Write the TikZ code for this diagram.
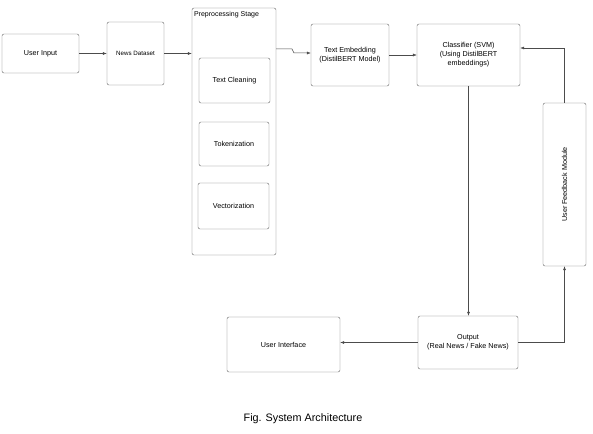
\documentclass[tikz,border=0pt]{standalone}
\usepackage{fontspec}
\setmainfont{Liberation Sans}
\usetikzlibrary{arrows.meta, positioning}

\begin{document}
\begin{tikzpicture}[
    x=1pt, y=-1pt,
    box/.style={rectangle, draw=black!60, rounded corners=2pt, inner sep=1pt, align=center, font=\fontsize{7.2}{9}\selectfont},
    arr/.style={-{Latex[length=4pt,width=3pt]}, draw=black!70, line width=0.5pt}
]
\useasboundingbox (0,0) rectangle (593,433);

% Input side
\node[box, minimum width=77pt, minimum height=39pt] (input) at (40.5,53.5) {User Input};
\node[box, minimum width=57pt, minimum height=63pt, font=\fontsize{6.2}{8}\selectfont] (dataset) at (135.5,53.5) {News Dataset};

% Preprocessing stage
\node[box, minimum width=84pt, minimum height=247pt] (prep) at (234,131.5) {};
\node[anchor=north west, inner sep=0pt, font=\fontsize{7}{8}\selectfont] (preplabel) at ([shift={(2,3)}]prep.north west) {Preprocessing Stage};
\node[box, minimum width=71pt, minimum height=45pt] (clean) at (234.5,80.5) {Text Cleaning};
\node[box, minimum width=70pt, minimum height=44pt] (token) at (234,144) {Tokenization};
\node[box, minimum width=71pt, minimum height=46pt] (vector) at (233.5,206) {Vectorization};

% Model
\node[box, minimum width=78pt, minimum height=62pt] (embed) at (350,55) {Text Embedding\\(DistilBERT Model)};
\node[box, minimum width=103pt, minimum height=62pt] (classif) at (468.5,55) {Classifier (SVM)\\(Using DistilBERT\\embeddings)};
\node[box, minimum width=43pt, minimum height=163pt] (feedback) at (564.5,184.5) {};
\node[rotate=90, font=\fontsize{7.2}{9}\selectfont] (feedlabel) at (feedback.center) {User Feedback Module};

% Output side
\node[box, minimum width=100pt, minimum height=53pt] (output) at (468,342.5) {Output\\(Real News / Fake News)};
\node[box, minimum width=113pt, minimum height=55pt] (ui) at (283.5,344.5) {User Interface};

\coordinate (jog) at (292,49);
\coordinate (jogb) at (294,53);

\draw[arr] (input) -- (dataset);
\draw[arr] (dataset.east) -- (dataset.east -| prep.west);
\draw[arr] (prep.east |- jog) -- (jog) -- (jogb) -- (embed.west |- jogb);
\draw[arr] (embed) -- (classif);
\draw[arr] (classif.south) -- (classif.south |- output.north);
\draw[arr] (output.west) -- (output.west -| ui.east);
\draw[arr] (output.east) -| (feedback.south);
\draw[arr] (feedback.north) |- ([yshift=7pt]classif.east);

% Caption
\node[font=\fontsize{10.8}{12}\selectfont] (caption) at (303,419) {Fig. System Architecture};
\end{tikzpicture}
\end{document}
